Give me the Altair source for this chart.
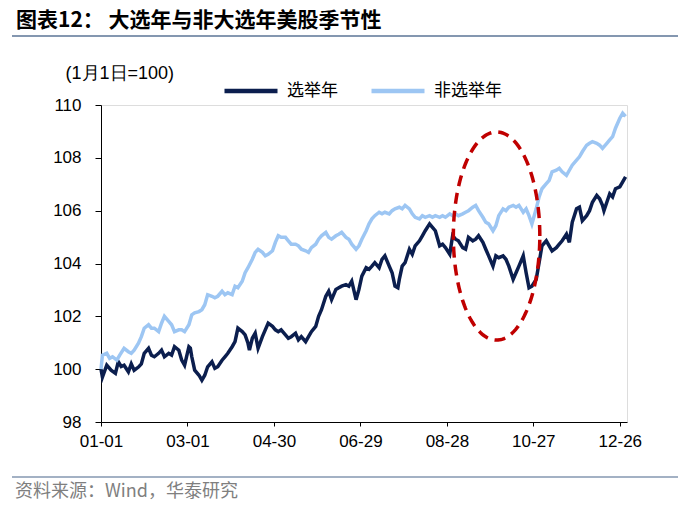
import altair as alt
import pandas as pd
import numpy as np

# ---------------- data ----------------
SERIES_ELECT = "选举年"
SERIES_NON = "非选举年"

elect_days = [0, 1, 4, 7, 10, 12, 14, 16, 19, 21, 23, 26, 28, 30, 33, 35, 37, 40, 42, 44,
              47, 49, 51, 54, 56, 58, 61, 62, 63, 65, 68, 70, 72, 74, 77, 79, 81, 84, 86, 88,
              91, 93, 95, 98, 100, 102, 103, 105, 107, 109, 112, 114, 116, 119, 121, 123, 125, 128, 130, 132,
              135, 137, 139, 142, 144, 146, 149, 151, 153, 156, 158, 160, 163, 165, 167, 170, 172, 174, 177, 179,
              181, 184, 186, 188, 190, 193, 195, 197, 200, 202, 204, 206, 207, 209, 211, 214, 216, 218, 221, 223,
              225, 228, 230, 232, 235, 237, 239, 242, 244, 246, 248, 251, 253, 255, 258, 260, 262, 265, 267, 269,
              272, 274, 276, 279, 281, 283, 286, 288, 290, 293, 295, 297, 299, 302, 304, 306, 309, 311, 313, 316,
              318, 320, 323, 325, 327, 330, 332, 334, 337, 339, 341, 344, 346, 348, 349, 351, 353, 355, 357, 360,
              362, 364]
elect_vals = [100.0, 99.7, 100.15, 99.96, 99.84, 100.28, 100.1, 100.15, 99.9, 100.2, 99.96, 100.08, 100.2, 100.6, 100.79, 100.53, 100.47, 100.6, 100.72, 100.47,
              100.6, 100.53, 100.85, 100.72, 100.34, 100.15, 100.85, 100.8, 100.47, 99.96, 99.77, 99.58, 99.77, 100.09, 100.28, 100.03, 100.09, 100.34, 100.47, 100.6,
              100.85, 101.04, 101.55, 101.42, 101.3, 100.98, 100.72, 101.17, 101.36, 100.79, 101.23, 101.49, 101.74, 101.62, 101.49, 101.42, 101.49, 101.3, 101.17, 101.23,
              101.36, 101.11, 101.23, 101.04, 101.23, 101.42, 101.62, 102.0, 102.25, 102.76, 102.95, 102.63, 103.02, 103.08, 103.14, 103.2, 103.14, 103.33, 102.63, 103.02,
              103.52, 103.84, 103.78, 103.9, 104.03, 103.84, 104.16, 104.29, 103.9, 103.65, 103.14, 103.08, 103.4, 103.9, 104.03, 104.54, 104.35, 104.67, 104.86, 105.05,
              105.24, 105.5, 105.37, 105.24, 104.67, 104.73, 104.6, 104.35, 105.05, 104.92, 104.86, 104.6, 104.54, 104.99, 104.86, 104.92, 105.05, 104.8, 104.54, 104.29,
              103.9, 104.29, 104.22, 104.29, 104.16, 103.9, 103.4, 103.65, 103.9, 104.29, 103.65, 103.08, 103.14, 103.4, 104.03, 104.67, 104.86, 104.67, 104.48, 104.6,
              104.73, 104.86, 105.11, 104.8, 105.56, 106.07, 106.13, 105.62, 105.81, 106.0, 106.32, 106.58, 106.45, 106.2, 106.0, 106.32, 106.64, 106.52, 106.83, 106.9,
              107.09, 107.28]

non_days = [0, 1, 4, 6, 8, 11, 13, 16, 19, 21, 23, 26, 28, 30, 33, 35, 37, 40, 42, 44,
            47, 49, 51, 54, 56, 58, 61, 63, 65, 68, 70, 72, 74, 77, 79, 81, 84, 86, 88, 91,
            93, 95, 98, 100, 102, 105, 107, 109, 112, 114, 116, 119, 121, 123, 125, 128, 130, 132, 135, 137,
            139, 142, 144, 146, 149, 151, 153, 156, 158, 160, 163, 165, 167, 170, 172, 174, 177, 179, 181, 184,
            186, 188, 190, 193, 195, 197, 200, 202, 204, 207, 209, 211, 214, 216, 218, 221, 223, 225, 228, 230,
            232, 235, 237, 239, 242, 244, 246, 248, 251, 253, 255, 258, 260, 262, 265, 267, 269, 272, 274, 276,
            279, 281, 283, 286, 288, 290, 293, 295, 297, 299, 302, 304, 306, 309, 311, 313, 316, 318, 320, 323,
            325, 327, 330, 332, 334, 337, 339, 341, 344, 346, 348, 351, 353, 355, 357, 360, 362, 364]
non_vals = [100.0, 100.53, 100.6, 100.41, 100.47, 100.34, 100.53, 100.79, 100.66, 100.6, 100.72, 100.98, 101.23, 101.55, 101.68, 101.55, 101.55, 101.42, 101.74, 102.0,
            101.81, 101.68, 101.42, 101.49, 101.49, 101.42, 101.68, 102.06, 102.13, 102.18, 102.25, 102.44, 102.82, 102.76, 102.7, 102.76, 102.95, 102.82, 102.89, 102.82,
            103.14, 103.08, 103.33, 103.65, 103.84, 104.16, 104.42, 104.54, 104.42, 104.29, 104.35, 104.48, 104.8, 105.05, 104.99, 104.99, 104.86, 104.73, 104.73, 104.67,
            104.54, 104.48, 104.42, 104.6, 104.73, 104.92, 105.05, 105.18, 104.99, 104.92, 105.05, 105.11, 105.18, 104.99, 104.92, 104.73, 104.54, 104.67, 104.92, 105.24,
            105.5, 105.69, 105.81, 105.94, 105.88, 105.94, 105.88, 106.0, 106.07, 106.13, 106.07, 106.2, 106.07, 105.88, 105.75, 105.69, 105.81, 105.75, 105.81, 105.75,
            105.81, 105.75, 105.81, 105.75, 105.88, 105.81, 105.88, 105.81, 105.88, 105.94, 106.0, 106.13, 106.2, 106.0, 105.75, 105.56, 105.5, 105.24, 105.43, 105.81,
            106.07, 106.0, 106.13, 106.2, 106.13, 106.2, 105.94, 106.07, 105.81, 105.5, 106.07, 106.52, 106.83, 107.02, 107.15, 107.47, 107.53, 107.6, 107.47, 107.34,
            107.53, 107.72, 107.91, 108.04, 108.23, 108.48, 108.55, 108.61, 108.55, 108.48, 108.36, 108.55, 108.68, 108.8, 109.12, 109.5, 109.69, 109.57]

tick_days = [0, 60, 120, 180, 240, 300, 360]
y_ticks = [98, 100, 102, 104, 106, 108, 110]

# annotation ellipse (centre / half-axes in data units)
ell_center_day, ell_center_val = 274.5, 105.04
ell_half_days, ell_half_val = 30.0, 3.94

# ---------------- build tables ----------------
base = pd.Timestamp("2024-01-01")


def to_date(d):
    return (base + pd.Timedelta(days=float(d))).strftime("%Y-%m-%dT%H:%M:%S")


rows = []
for d, v in zip(elect_days, elect_vals):
    rows.append({"date": to_date(d), "value": v, "series": SERIES_ELECT})
for d, v in zip(non_days, non_vals):
    rows.append({"date": to_date(d), "value": v, "series": SERIES_NON})
df = pd.DataFrame(rows)

t = np.linspace(0, 2 * np.pi, 181)
ell = pd.DataFrame({
    "i": np.arange(len(t)),
    "date": [to_date(ell_center_day + ell_half_days * np.cos(a)) for a in t],
    "value": ell_center_val + ell_half_val * np.sin(t),
})

tick_vals = [alt.DateTime(year=2024, month=int((base + pd.Timedelta(days=d)).month),
                          date=int((base + pd.Timedelta(days=d)).day)) for d in tick_days]

DARK = "#0B1E4E"
LIGHT = "#9DC6F3"
LATIN = "Liberation Sans"
CJK = "Noto Sans CJK SC"

x_enc = alt.X("date:T",
              scale=alt.Scale(domain=[alt.DateTime(year=2024, month=1, date=1),
                                      alt.DateTime(year=2024, month=12, date=31)]),
              axis=alt.Axis(values=tick_vals, format="%m-%d", title=None, grid=False,
                            labelFont=LATIN, labelFontSize=17, labelColor="black",
                            tickSize=4, tickColor="black", domainColor="black",
                            labelPadding=7, labelFlush=False, labelOverlap=False))
y_enc = alt.Y("value:Q",
              scale=alt.Scale(domain=[98, 110], nice=False, zero=False),
              axis=alt.Axis(values=y_ticks, title="(1月1日=100)", grid=False,
                            titleAngle=0, titleAlign="left", titleBaseline="middle",
                            titleX=-36, titleY=-32, titleFont=LATIN, titleFontSize=18,
                            titleFontWeight="normal", titleColor="black",
                            labelFont=LATIN, labelFontSize=17, labelColor="black",
                            tickSize=6, tickColor="black", domainColor="black",
                            labelPadding=14))

lines = alt.Chart(df).mark_line(strokeWidth=3.5).encode(
    x=x_enc,
    y=y_enc,
    color=alt.Color("series:N",
                    scale=alt.Scale(domain=[SERIES_ELECT, SERIES_NON], range=[DARK, LIGHT]),
                    sort=[SERIES_ELECT, SERIES_NON],
                    legend=alt.Legend(title=None, orient="none", legendX=121, legendY=-43,
                                      direction="horizontal", symbolType="stroke",
                                      symbolSize=2809, symbolStrokeWidth=4.5,
                                      labelFont=CJK, labelFontSize=17, labelColor="black",
                                      labelOffset=7, columnPadding=24, padding=0)),
)

ellipse = alt.Chart(ell).mark_line(color="#C00000", strokeWidth=3.5, strokeDash=[11, 7]).encode(
    x="date:T", y="value:Q", order=alt.Order("i:Q"))

one = pd.DataFrame({"k": [0]})

title = alt.Chart(one).mark_text(align="left", baseline="middle", font=CJK, fontSize=21,
                                 fontWeight="bold", color="black").encode(
    x=alt.value(-85), y=alt.value(-84), text=alt.value("图表12：  大选年与非大选年美股季节性"))
top_rule = alt.Chart(one).mark_rule(color="#8497B0", strokeWidth=2).encode(
    x=alt.value(-89), x2=alt.value(577), y=alt.value(-69))
bottom_rule = alt.Chart(one).mark_rule(color="#8497B0", strokeWidth=1.5).encode(
    x=alt.value(-89), x2=alt.value(577), y=alt.value(372))
source = alt.Chart(one).mark_text(align="left", baseline="middle", font=CJK, fontSize=18,
                                  color="#7F7F7F").encode(
    x=alt.value(-86), y=alt.value(387), text=alt.value("资料来源：Wind，华泰研究"))

chart = alt.layer(lines, ellipse, title, top_rule, bottom_rule, source).properties(
    width=526, height=317,
    padding={"left": 101, "top": 105, "right": 73, "bottom": 86},
    autosize=alt.AutoSizeParams(type="none"),
).configure_view(stroke=None).configure(background="white")

chart.save("out.html", embed_options={"renderer": "svg", "actions": False})
